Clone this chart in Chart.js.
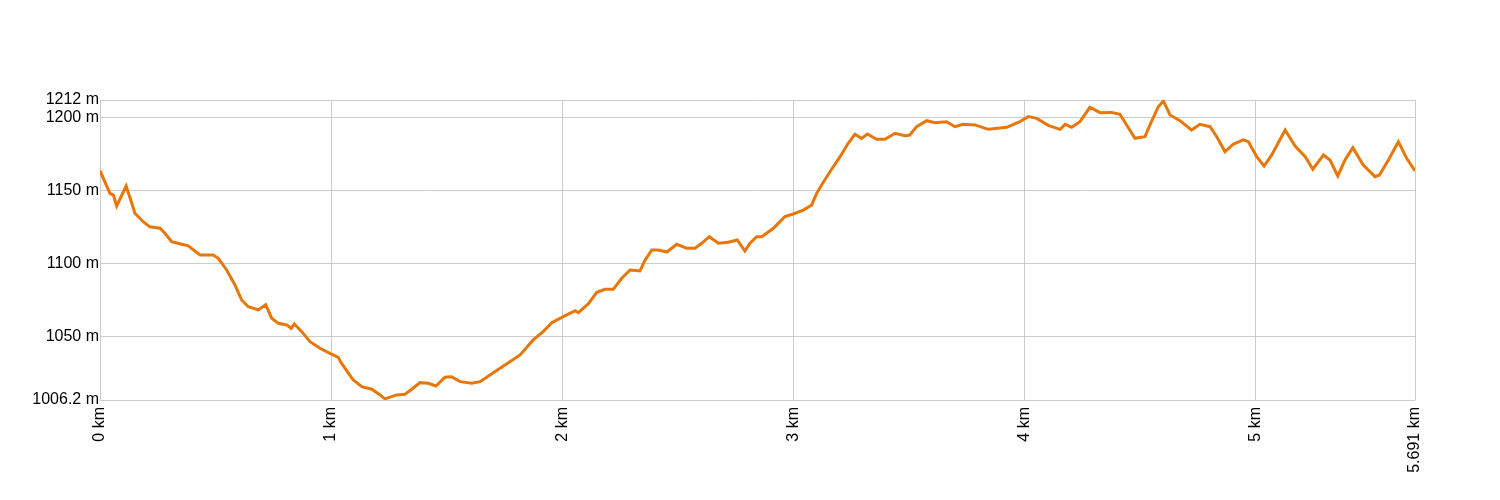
<!DOCTYPE html>
<html>
<head>
<meta charset="utf-8">
<script src="https://cdn.jsdelivr.net/npm/chart.js@4/dist/chart.umd.min.js"></script>
<style>
  html, body { margin: 0; padding: 0; background: #fff; }
  #wrap { width: 1500px; height: 500px; }
</style>
</head>
<body>
<div id="wrap"><canvas id="profile" width="1500" height="500"></canvas></div>
<script>
// distance along the track (km) and elevation (m)
const distances = [
  0, 0.043, 0.058, 0.072, 0.113, 0.133, 0.151, 0.187, 0.216, 0.260, 0.281, 0.310, 0.354, 0.382,
  0.433, 0.490, 0.512, 0.548, 0.584, 0.613, 0.642, 0.685, 0.717, 0.743, 0.772, 0.808, 0.827, 0.841,
  0.873, 0.909, 0.952, 0.995, 1.031, 1.045, 1.075, 1.096, 1.133, 1.176, 1.212, 1.233, 1.284, 1.320,
  1.349, 1.385, 1.421, 1.454, 1.493, 1.522, 1.558, 1.609, 1.645, 1.688, 1.731, 1.774, 1.818, 1.875,
  1.918, 1.955, 2.005, 2.056, 2.070, 2.113, 2.150, 2.185, 2.221, 2.258, 2.294, 2.337, 2.359, 2.388,
  2.416, 2.453, 2.496, 2.539, 2.575, 2.604, 2.637, 2.676, 2.719, 2.758, 2.791, 2.813, 2.842, 2.864,
  2.914, 2.964, 3.000, 3.044, 3.080, 3.102, 3.123, 3.159, 3.203, 3.238, 3.267, 3.296, 3.321, 3.361,
  3.397, 3.441, 3.484, 3.505, 3.534, 3.578, 3.614, 3.664, 3.700, 3.736, 3.787, 3.844, 3.924, 3.981,
  4.017, 4.054, 4.104, 4.155, 4.177, 4.205, 4.241, 4.284, 4.328, 4.378, 4.414, 4.443, 4.479, 4.522,
  4.544, 4.580, 4.602, 4.631, 4.674, 4.724, 4.760, 4.804, 4.833, 4.869, 4.905, 4.948, 4.970, 5.006,
  5.038, 5.071, 5.129, 5.172, 5.216, 5.249, 5.295, 5.323, 5.357, 5.388, 5.422, 5.467, 5.518, 5.537,
  5.576, 5.619, 5.655, 5.691
];
const elevations = [
  1163.5, 1148, 1146.8, 1139.3, 1153, 1143.4, 1134.3, 1128.5, 1125, 1124, 1120.6, 1114.8, 1113, 1112,
  1105.7, 1105.7, 1103.4, 1095.4, 1085.1, 1074.8, 1070.2, 1068, 1071.6, 1062.3, 1058.8, 1057.7, 1055.4, 1058.3,
  1053.1, 1046.2, 1041.7, 1038.2, 1035.5, 1031.5, 1024.6, 1019.9, 1015.4, 1013.6, 1009.7, 1007, 1009.7, 1010.2,
  1013.6, 1018.1, 1017.7, 1015.8, 1021.8, 1022.2, 1018.8, 1017.7, 1018.8, 1023.4, 1027.9, 1032.5, 1037.1, 1047.4,
  1053.1, 1059.2, 1063.4, 1067.5, 1066.1, 1072.1, 1080.1, 1082.1, 1082.1, 1089.7, 1095.4, 1094.7, 1102.2, 1109.1,
  1109.1, 1107.7, 1113, 1110.3, 1110.3, 1113.7, 1118.2, 1113.7, 1114.4, 1116, 1108.4, 1113.7, 1118.2, 1118.2,
  1124, 1132, 1133.8, 1136.5, 1140, 1148, 1153.7, 1162.8, 1173.1, 1182.3, 1188.5, 1185.7, 1188.7, 1185,
  1185, 1189.2, 1187.5, 1188, 1193.7, 1197.8, 1196.4, 1197.1, 1193.7, 1195.3, 1194.9, 1191.9, 1193.3, 1197.1,
  1200.6, 1199.4, 1194.6, 1191.9, 1195.3, 1193.3, 1197.1, 1207, 1203.3, 1203.5, 1202.2, 1194.9, 1185.7, 1186.8,
  1194.9, 1207.4, 1211.3, 1201.7, 1197.8, 1191.4, 1195.3, 1193.7, 1186.8, 1176.5, 1181.8, 1184.6, 1183.4, 1173.1,
  1166.7, 1174.3, 1191.4, 1180.4, 1173.1, 1164.5, 1174.3, 1170.8, 1159.9, 1170.8, 1179.3, 1167.4, 1159.4, 1160.6,
  1170.8, 1183.4, 1172, 1163.3
];
const xTicks = [0, 1, 2, 3, 4, 5, 5.691];
const yTicks = [1006.2, 1050, 1100, 1150, 1200, 1212];

const points = distances.map((d, i) => ({ x: d, y: elevations[i] }));
const labelFont = { family: "'Liberation Sans', Arial, sans-serif", size: 16 };

new Chart(document.getElementById('profile'), {
  type: 'line',
  data: {
    datasets: [{
      data: points,
      borderColor: '#e8770a',
      borderWidth: 3,
      pointRadius: 0,
      tension: 0,
      fill: false
    }]
  },
  options: {
    responsive: false,
    animation: false,
    layout: { padding: { left: 0, top: 100, right: 85, bottom: 0 } },
    plugins: { legend: { display: false }, tooltip: { enabled: false } },
    scales: {
      x: {
        type: 'linear',
        min: 0,
        max: 5.691,
        afterBuildTicks: (scale) => { scale.ticks = xTicks.map(v => ({ value: v })); },
        afterFit: (scale) => { scale.height = 100; },
        grid: { color: '#cccccc', lineWidth: 1, drawTicks: false },
        border: { display: false },
        ticks: {
          autoSkip: false,
          minRotation: 90,
          maxRotation: 90,
          padding: 7,
          color: '#000',
          font: labelFont,
          callback: (v) => v + ' km'
        }
      },
      y: {
        type: 'linear',
        min: 1006.2,
        max: 1212,
        afterBuildTicks: (scale) => { scale.ticks = yTicks.map(v => ({ value: v })); },
        afterFit: (scale) => { scale.width = 100; },
        grid: { color: '#cccccc', lineWidth: 1, drawTicks: false },
        border: { display: false },
        ticks: {
          autoSkip: false,
          padding: 1,
          color: '#000',
          font: labelFont,
          callback: (v) => v + ' m'
        }
      }
    }
  }
});
</script>
</body>
</html>
